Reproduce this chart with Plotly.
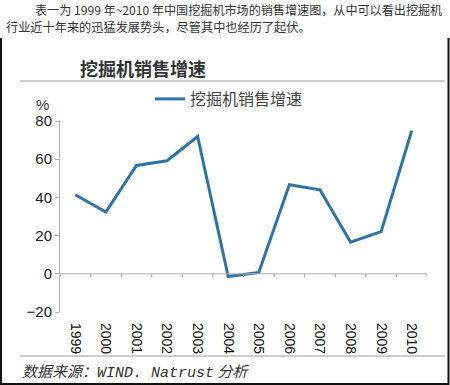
import plotly.graph_objects as go

years = ["1999", "2000", "2001", "2002", "2003", "2004", "2005", "2006", "2007", "2008", "2009", "2010"]
growth = [41.4, 32.3, 56.7, 59.2, 71.9, -1.4, 0.7, 46.6, 44.0, 16.6, 22.1, 74.9]
series_name = "挖掘机销售增速"
title_text = "挖掘机销售增速"
intro_line1 = "表一为 1999 年~2010 年中国挖掘机市场的销售增速图，从中可以看出挖掘机"
intro_line2 = "行业近十年来的迅猛发展势头，尽管其中也经历了起伏。"
source_cn = "数据来源："
source_en = "WIND. Natrust"
source_tail = "分析"

W, H = 450, 385
L, R, T, B = 60, 23, 121, 73
PW, PH = W - L - R, H - T - B

def px(x):
    return (x - L) / PW

def py(y):
    return (H - B - y) / PH

CJK = "Noto Sans CJK SC, Liberation Sans, sans-serif"
NUM = "Liberation Sans, Arial, sans-serif"
BLUE = "#2f73a5"

fig = go.Figure()
fig.add_trace(go.Scatter(
    x=list(range(len(years))), y=growth, mode="lines", name=series_name,
    line=dict(color=BLUE, width=3),
))

shapes = []
shapes.append(dict(type="line", xref="x", yref="y", x0=-0.5, x1=len(years) - 0.5, y0=0, y1=0,
                   line=dict(color="#b0b0b0", width=1)))
for k in range(len(years) + 1):
    shapes.append(dict(type="line", xref="x", yref="y", x0=k - 0.5, x1=k - 0.5, y0=0, y1=-1.8,
                       line=dict(color="#9a9a9a", width=1)))
shapes.append(dict(type="line", xref="paper", yref="paper", x0=px(20), x1=px(445), y0=py(81), y1=py(81),
                   line=dict(color="#9a9a9a", width=1.2)))
shapes.append(dict(type="line", xref="paper", yref="paper", x0=px(20), x1=px(445), y0=py(356), y1=py(356),
                   line=dict(color="#9a9a9a", width=1.2)))
shapes.append(dict(type="path", xref="paper", yref="paper",
                   path=f"M {px(1)} {py(38)} L {px(1)} {py(384)} L {px(448.5)} {py(384)} L {px(448.5)} {py(38)}",
                   line=dict(color="#111111", width=2)))

source_html = ("<i>" + source_cn + "</i>"
               + "<span style='font-family:Liberation Mono, monospace'><i>" + source_en + "</i></span>"
               + "<i> " + source_tail + "</i>")

annotations = [
    dict(text=intro_line1, x=px(33), y=py(9), xref="paper", yref="paper", xanchor="left", yanchor="middle",
         showarrow=False, font=dict(family=CJK, size=12.1, color="#333333")),
    dict(text=intro_line2, x=px(4), y=py(27), xref="paper", yref="paper", xanchor="left", yanchor="middle",
         showarrow=False, font=dict(family=CJK, size=12.2, color="#333333")),
    dict(text="<b>" + title_text + "</b>", x=px(78), y=py(68), xref="paper", yref="paper", xanchor="left",
         yanchor="middle", showarrow=False, font=dict(family=CJK, size=18, color="#333333")),
    dict(text="%", x=px(42), y=py(105), xref="paper", yref="paper", xanchor="center", yanchor="middle",
         showarrow=False, font=dict(family=NUM, size=15, color="#333333")),
    dict(text=source_html, x=px(20), y=py(371), xref="paper", yref="paper", xanchor="left", yanchor="middle",
         showarrow=False, font=dict(family=CJK, size=15, color="#333333")),
]

fig.update_layout(
    width=W, height=H,
    margin=dict(l=L, r=R, t=T, b=B, pad=0),
    paper_bgcolor="white", plot_bgcolor="white",
    shapes=shapes, annotations=annotations,
    showlegend=True,
    legend=dict(x=px(150), y=py(99), xanchor="left", yanchor="middle", bgcolor="rgba(0,0,0,0)",
                font=dict(family=CJK, size=16, color="#444444"), itemwidth=30),
    xaxis=dict(
        range=[-0.5, len(years) - 0.5], tickmode="array", tickvals=list(range(len(years))), ticktext=years,
        tickangle=90, showline=False, showgrid=False, zeroline=False, ticks="",
        tickfont=dict(family=NUM, size=14, color="#111111"), ticklabelstandoff=10,
    ),
    yaxis=dict(
        range=[-20, 80], tickvals=[-20, 0, 20, 40, 60, 80], showgrid=False, zeroline=False,
        showline=True, linecolor="#b0b0b0", linewidth=1, ticks="outside", ticklen=4, tickcolor="#b0b0b0",
        tickfont=dict(family=NUM, size=15, color="#222222"),
    ),
)

fig.write_html("out.html", config={"displayModeBar": False},
               post_script="document.body.style.margin='0';document.body.style.overflow='hidden';")
